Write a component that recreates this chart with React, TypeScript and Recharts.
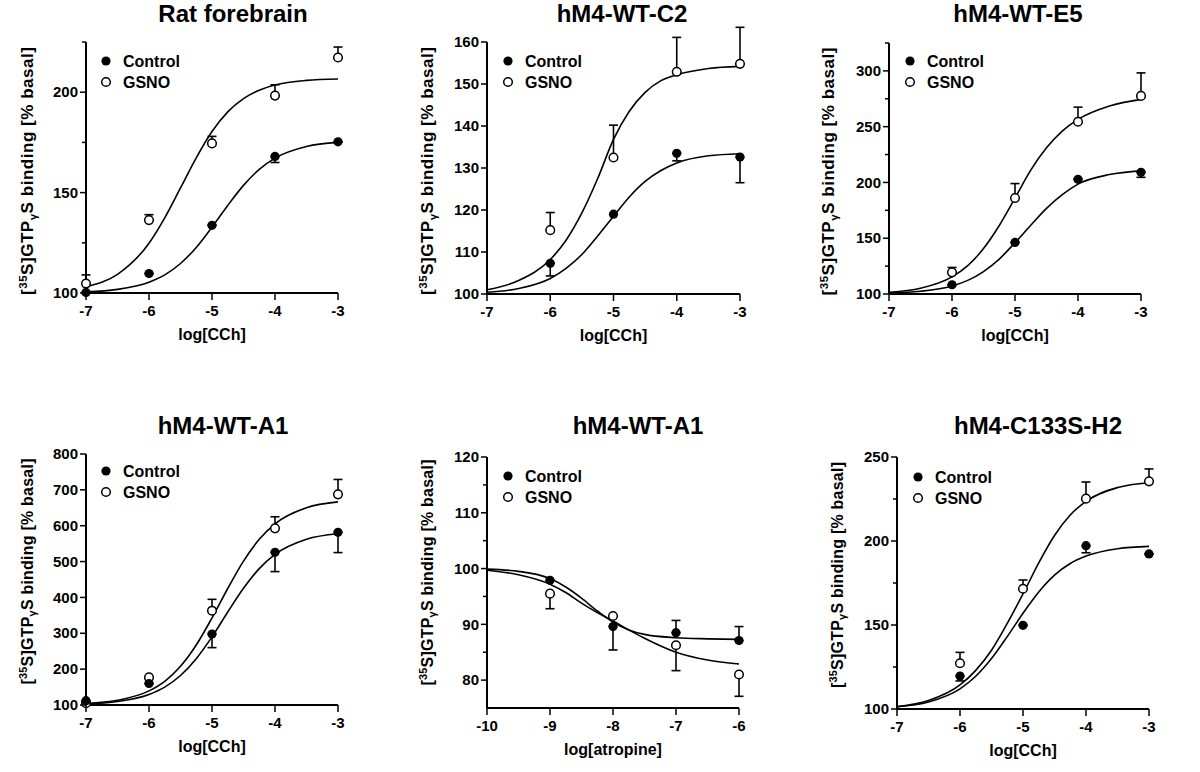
import React from "react";
import {
  ComposedChart,
  Line,
  Scatter,
  ErrorBar,
  XAxis,
  YAxis,
  ReferenceLine,
} from "recharts";

// ---- doses / tick values ----
const cchDoses = [-7, -6, -5, -4, -3];
const cchDosesFrom6 = [-6, -5, -4, -3];
const atropineDoses = [-9, -8, -7, -6];
const cchTicks = [-7, -6, -5, -4, -3];
const atropineTicks = [-10, -9, -8, -7, -6];
const cchFitX = [-7, -6.5, -6, -5.75, -5.5, -5.25, -5, -4.75, -4.5, -4.25, -4, -3.5, -3];
const atropineFitX = [-10, -9.5, -9, -8.75, -8.5, -8.25, -8, -7.75, -7.5, -7, -6.5, -6];

// ---- Rat forebrain ----
const ratCtrl = [100.3, 109.7, 133.7, 168, 175.3];
const ratCtrlDown = [0, 0, 0, 3, 0];
const ratGsno = [104.7, 136.3, 174.5, 198.3, 217.3];
const ratGsnoUp = [4.3, 2.7, 3.5, 5.4, 5.2];
const ratCtrlFit = [100.6, 101.8, 105.4, 109, 114.7, 122.7, 132.8, 143.6, 153.6, 161.6, 167.2, 173, 175];
const ratGsnoFit = [103.1, 109.3, 124.8, 137.4, 152.3, 167.3, 180.4, 190.2, 196.8, 201, 203.6, 205.9, 206.6];

// ---- hM4-WT-C2 ----
const c2Ctrl = [107.3, 119, 133.5, 132.6];
const c2CtrlDown = [3, 0, 1.8, 6.1];
const c2Gsno = [115.2, 132.5, 152.9, 154.8];
const c2GsnoUp = [4.2, 7.7, 8.2, 8.7];
const c2CtrlFit = [100.4, 101.3, 103.7, 106.1, 109.4, 113.8, 118.5, 123.1, 126.8, 129.4, 131.2, 132.9, 133.4];
const c2GsnoFit = [101, 103.2, 108.2, 112.8, 119.3, 127.5, 136.8, 143.5, 148, 150.8, 152.2, 153.7, 154.2];

// ---- hM4-WT-E5 ----
const e5Ctrl = [108.3, 146.2, 202.8, 209.1];
const e5CtrlDown = [0, 0, 0, 4.5];
const e5Gsno = [119.4, 186.1, 254.4, 277.6];
const e5GsnoUp = [4.4, 12.9, 13.1, 20.6];
const e5CtrlFit = [100.8, 102.4, 107.2, 112.2, 120.1, 131.3, 146, 161.6, 176.7, 189, 198.5, 207.1, 210.4];
const e5GsnoFit = [101.6, 105.1, 115.3, 125.4, 140.7, 161.4, 186, 211, 231, 246, 256.5, 268.5, 274.5];

// ---- hM4-WT-A1 (CCh) ----
const a1Ctrl = [112, 160, 298, 526, 581.5];
const a1CtrlDown = [0, 0, 38, 54, 56.5];
const a1Gsno = [105, 177, 363, 592.7, 687.5];
const a1GsnoUp = [0, 0, 31.7, 32.3, 41.5];
const a1CtrlFit = [103.1, 109.7, 129.4, 150, 182.2, 229.3, 290, 359.2, 425.5, 480.4, 520, 562.3, 577.5];
const a1GsnoFit = [104.2, 113, 139.3, 166, 207.9, 267.4, 342.8, 424.9, 501.2, 562, 605.3, 650.3, 666.4];

// ---- hM4-WT-A1 (atropine) ----
const atCtrl = [97.9, 89.6, 88.5, 87.1];
const atCtrlDown = [0, 4.2, 0, 0];
const atCtrlUp = [0, 0, 2.2, 2.5];
const atGsno = [95.5, 91.5, 86.25, 81];
const atGsnoDown = [2.7, 0, 4.55, 3.9];
const atCtrlFit = [99.9, 99.5, 98.2, 96.7, 94.7, 92.4, 90.4, 89, 88.2, 87.6, 87.4, 87.3];
const atGsnoFit = [99.7, 98.9, 97.2, 95.7, 93.8, 92.1, 90.6, 89, 87.5, 85, 83.6, 82.9];

// ---- hM4-C133S-H2 ----
const h2Ctrl = [119.6, 149.8, 197.2, 192.3];
const h2CtrlDown = [2.9, 0, 4.2, 0];
const h2Gsno = [127.2, 171.6, 225.2, 235.5];
const h2GsnoUp = [6.5, 5.2, 9.9, 7.4];
const h2CtrlFit = [101.4, 104.2, 112, 119.5, 130, 143.1, 157, 169.7, 179.7, 186.6, 191, 195.4, 196.8];
const h2GsnoFit = [101.3, 105, 114.3, 123, 135, 151, 168.5, 187, 203.3, 215.5, 223.6, 231.8, 234.7];

const zeros4 = [0, 0, 0, 0];
const zeros5 = [0, 0, 0, 0, 0];

const FONT = "Arial, 'Liberation Sans', Helvetica, sans-serif";

type Pt = { x: number; y: number; err: [number, number] };
const toPoints = (xs: number[], ys: number[], down: number[], up: number[]): Pt[] =>
  xs.map((x, i) => ({ x, y: ys[i], err: [down[i], up[i]] }));
const toCurve = (xs: number[], ys: number[]) => xs.map((x, i) => ({ x, y: ys[i] }));

type Box = { left: number; top: number; right: number; bottom: number };
type PanelCfg = {
  title: string;
  xLabel: string;
  xDomain: [number, number];
  xTicks: number[];
  yDomain: [number, number];
  yAxisTop: number;
  yMajor: number[];
  yMinor: number[];
  ctrl: Pt[];
  gsno: Pt[];
  ctrlFit: { x: number; y: number }[];
  gsnoFit: { x: number; y: number }[];
  box: Box;
  titleX: number;
  titleY: number;
  yLabelX: number;
  yLabelY: number;
  yLabelSize: number;
  yLabelLen: number;
  legendX: number;
  legendY: number;
};

const panels: PanelCfg[] = [
  {
    title: "Rat forebrain",
    xLabel: "log[CCh]",
    xDomain: [-7, -3],
    xTicks: cchTicks,
    yDomain: [100, 225],
    yAxisTop: 225,
    yMajor: [100, 150, 200],
    yMinor: [125, 175, 225],
    ctrl: toPoints(cchDoses, ratCtrl, ratCtrlDown, zeros5),
    gsno: toPoints(cchDoses, ratGsno, zeros5, ratGsnoUp),
    ctrlFit: toCurve(cchFitX, ratCtrlFit),
    gsnoFit: toCurve(cchFitX, ratGsnoFit),
    box: { left: 86, top: 42, right: 338, bottom: 293 },
    titleX: 233,
    titleY: 22,
    yLabelX: 27,
    yLabelY: 171,
    yLabelSize: 17,
    yLabelLen: 248,
    legendX: 106,
    legendY: 61,
  },
  {
    title: "hM4-WT-C2",
    xLabel: "log[CCh]",
    xDomain: [-7, -3],
    xTicks: cchTicks,
    yDomain: [100, 165],
    yAxisTop: 160,
    yMajor: [100, 110, 120, 130, 140, 150, 160],
    yMinor: [105, 115, 125, 135, 145, 155],
    ctrl: toPoints(cchDosesFrom6, c2Ctrl, c2CtrlDown, zeros4),
    gsno: toPoints(cchDosesFrom6, c2Gsno, zeros4, c2GsnoUp),
    ctrlFit: toCurve(cchFitX, c2CtrlFit),
    gsnoFit: toCurve(cchFitX, c2GsnoFit),
    box: { left: 487, top: 21, right: 740, bottom: 294 },
    titleX: 622,
    titleY: 22,
    yLabelX: 427,
    yLabelY: 171,
    yLabelSize: 17,
    yLabelLen: 248,
    legendX: 508,
    legendY: 61,
  },
  {
    title: "hM4-WT-E5",
    xLabel: "log[CCh]",
    xDomain: [-7, -3],
    xTicks: cchTicks,
    yDomain: [100, 325],
    yAxisTop: 325,
    yMajor: [100, 150, 200, 250, 300],
    yMinor: [125, 175, 225, 275, 325],
    ctrl: toPoints(cchDosesFrom6, e5Ctrl, e5CtrlDown, zeros4),
    gsno: toPoints(cchDosesFrom6, e5Gsno, zeros4, e5GsnoUp),
    ctrlFit: toCurve(cchFitX, e5CtrlFit),
    gsnoFit: toCurve(cchFitX, e5GsnoFit),
    box: { left: 889, top: 43, right: 1141, bottom: 294 },
    titleX: 1018,
    titleY: 22,
    yLabelX: 828,
    yLabelY: 171.5,
    yLabelSize: 17,
    yLabelLen: 248,
    legendX: 910,
    legendY: 61,
  },
  {
    title: "hM4-WT-A1",
    xLabel: "log[CCh]",
    xDomain: [-7, -3],
    xTicks: cchTicks,
    yDomain: [100, 800],
    yAxisTop: 800,
    yMajor: [100, 200, 300, 400, 500, 600, 700, 800],
    yMinor: [],
    ctrl: toPoints(cchDoses, a1Ctrl, a1CtrlDown, zeros5),
    gsno: toPoints(cchDoses, a1Gsno, zeros5, a1GsnoUp),
    ctrlFit: toCurve(cchFitX, a1CtrlFit),
    gsnoFit: toCurve(cchFitX, a1GsnoFit),
    box: { left: 86, top: 454, right: 338, bottom: 705 },
    titleX: 223,
    titleY: 434,
    yLabelX: 27,
    yLabelY: 571.5,
    yLabelSize: 16,
    yLabelLen: 226,
    legendX: 106,
    legendY: 471,
  },
  {
    title: "hM4-WT-A1",
    xLabel: "log[atropine]",
    xDomain: [-10, -6],
    xTicks: atropineTicks,
    yDomain: [75, 120],
    yAxisTop: 120,
    yMajor: [80, 90, 100, 110, 120],
    yMinor: [85, 95, 105, 115],
    ctrl: toPoints(atropineDoses, atCtrl, atCtrlDown, atCtrlUp),
    gsno: toPoints(atropineDoses, atGsno, atGsnoDown, zeros4),
    ctrlFit: toCurve(atropineFitX, atCtrlFit),
    gsnoFit: toCurve(atropineFitX, atGsnoFit),
    box: { left: 487, top: 457, right: 739, bottom: 708 },
    titleX: 638,
    titleY: 434,
    yLabelX: 427,
    yLabelY: 572.5,
    yLabelSize: 16,
    yLabelLen: 226,
    legendX: 508,
    legendY: 476,
  },
  {
    title: "hM4-C133S-H2",
    xLabel: "log[CCh]",
    xDomain: [-7, -3],
    xTicks: cchTicks,
    yDomain: [100, 250],
    yAxisTop: 250,
    yMajor: [100, 150, 200, 250],
    yMinor: [125, 175, 225],
    ctrl: toPoints(cchDosesFrom6, h2Ctrl, h2CtrlDown, zeros4),
    gsno: toPoints(cchDosesFrom6, h2Gsno, zeros4, h2GsnoUp),
    ctrlFit: toCurve(cchFitX, h2CtrlFit),
    gsnoFit: toCurve(cchFitX, h2GsnoFit),
    box: { left: 897, top: 457, right: 1149, bottom: 709 },
    titleX: 1038,
    titleY: 434,
    yLabelX: 837,
    yLabelY: 575,
    yLabelSize: 16,
    yLabelLen: 226,
    legendX: 918,
    legendY: 477,
  },
];

const Y_AXIS_W = 70;
const M_TOP = 10;
const M_RIGHT = 15;
const X_AXIS_H = 60;

const FilledDot = (p: any) => <circle cx={p.cx} cy={p.cy} r={4.6} fill="#000" />;
const OpenDot = (p: any) => (
  <circle cx={p.cx} cy={p.cy} r={4.3} fill="#fff" stroke="#000" strokeWidth={1.5} />
);

const Panel = ({ cfg }: { cfg: PanelCfg }) => {
  const { box } = cfg;
  const width = box.right - box.left + Y_AXIS_W + M_RIGHT;
  const height = box.bottom - box.top + M_TOP + X_AXIS_H;
  const chartLeft = box.left - Y_AXIS_W;
  const chartTop = box.top - M_TOP;
  const yTicks = [...cfg.yMajor, ...cfg.yMinor].sort((a, b) => a - b);

  const renderYTick = (props: any) => {
    const { x, y, payload } = props;
    const ax = x + 8;
    const major = cfg.yMajor.includes(payload.value);
    return (
      <g>
        <line x1={ax - (major ? 6 : 4)} x2={ax} y1={y} y2={y} stroke="#000" strokeWidth={1.5} />
        {major && (
          <text
            x={ax - 8}
            y={y + 5.2}
            textAnchor="end"
            fontSize={15}
            fontWeight="bold"
            fontFamily={FONT}
            fill="#000"
          >
            {payload.value}
          </text>
        )}
      </g>
    );
  };

  const renderXTick = (props: any) => {
    const { x, y, payload } = props;
    const ay = y - 7;
    return (
      <g>
        <line x1={x} x2={x} y1={ay} y2={ay + 7} stroke="#000" strokeWidth={1.5} />
        <text
          x={x}
          y={ay + 23}
          textAnchor="middle"
          fontSize={15}
          fontWeight="bold"
          fontFamily={FONT}
          fill="#000"
        >
          {payload.value}
        </text>
      </g>
    );
  };

  const renderXLabel = (props: any) => {
    const vb = props.viewBox;
    return (
      <text
        x={vb.x + vb.width / 2}
        y={vb.y + 47}
        textAnchor="middle"
        fontSize={16}
        fontWeight="bold"
        fontFamily={FONT}
        fill="#000"
      >
        {cfg.xLabel}
      </text>
    );
  };

  const renderYLabel = () => {
    const fs = cfg.yLabelSize;
    const cx = cfg.yLabelX - chartLeft;
    const cy = cfg.yLabelY - chartTop;
    const sup = fs * 0.38;
    const sub = fs * 0.2;
    return (
      <text
        x={0}
        y={fs * 0.36}
        transform={`translate(${cx},${cy}) rotate(-90)`}
        textAnchor="middle"
        textLength={cfg.yLabelLen}
        lengthAdjust="spacing"
        fontSize={fs}
        fontWeight="bold"
        fontFamily={FONT}
        fill="#000"
      >
        <tspan>[</tspan>
        <tspan fontSize={fs * 0.68} dy={-sup}>35</tspan>
        <tspan dy={sup}>S]GTP</tspan>
        <tspan fontSize={fs * 0.68} dy={sub}>γ</tspan>
        <tspan dy={-sub}>S binding [% basal]</tspan>
      </text>
    );
  };

  return (
    <div style={{ position: "absolute", left: chartLeft, top: chartTop }}>
      <ComposedChart
        width={width}
        height={height}
        margin={{ top: M_TOP, right: M_RIGHT, bottom: 0, left: 0 }}
      >
        <XAxis
          type="number"
          dataKey="x"
          domain={cfg.xDomain}
          ticks={cfg.xTicks}
          height={X_AXIS_H}
          tickSize={7}
          tickMargin={0}
          tickLine={false}
          tick={renderXTick}
          axisLine={{ stroke: "#000", strokeWidth: 2 }}
          label={renderXLabel}
        />
        <YAxis
          type="number"
          dataKey="y"
          domain={cfg.yDomain}
          ticks={yTicks}
          width={Y_AXIS_W}
          tickSize={6}
          tickMargin={2}
          tickLine={false}
          tick={renderYTick}
          axisLine={false}
          label={renderYLabel}
        />
        <ReferenceLine
          segment={[
            { x: cfg.xDomain[0], y: cfg.yDomain[0] },
            { x: cfg.xDomain[0], y: cfg.yAxisTop },
          ]}
          stroke="#000"
          strokeWidth={2}
        />
        <Line
          data={cfg.ctrlFit}
          dataKey="y"
          type="monotone"
          dot={false}
          stroke="#000"
          strokeWidth={1.6}
          isAnimationActive={false}
        />
        <Line
          data={cfg.gsnoFit}
          dataKey="y"
          type="monotone"
          dot={false}
          stroke="#000"
          strokeWidth={1.6}
          isAnimationActive={false}
        />
        <Scatter data={cfg.gsno} dataKey="y" shape={OpenDot} isAnimationActive={false}>
          <ErrorBar dataKey="err" direction="y" width={4.5} stroke="#000" strokeWidth={1.6} />
        </Scatter>
        <Scatter data={cfg.ctrl} dataKey="y" shape={FilledDot} isAnimationActive={false}>
          <ErrorBar dataKey="err" direction="y" width={4.5} stroke="#000" strokeWidth={1.6} />
        </Scatter>
      </ComposedChart>
    </div>
  );
};

const Overlay = () => (
  <svg
    width={1200}
    height={772}
    style={{ position: "absolute", left: 0, top: 0, pointerEvents: "none" }}
  >
    {panels.map((p, i) => (
      <g key={i} fontFamily={FONT} fontWeight="bold" fill="#000">
        <text x={p.titleX} y={p.titleY} textAnchor="middle" fontSize={24}>
          {p.title}
        </text>
        <circle cx={p.legendX} cy={p.legendY} r={4.6} fill="#000" />
        <text x={p.legendX + 17} y={p.legendY + 5.7} fontSize={16}>
          Control
        </text>
        <circle cx={p.legendX} cy={p.legendY + 21} r={4.3} fill="#fff" stroke="#000" strokeWidth={1.5} />
        <text x={p.legendX + 17} y={p.legendY + 21 + 5.7} fontSize={16}>
          GSNO
        </text>
      </g>
    ))}
  </svg>
);

export default function App() {
  return (
    <div
      style={{
        position: "absolute",
        left: 0,
        top: 0,
        width: 1200,
        height: 772,
        background: "#fff",
        overflow: "hidden",
      }}
    >
      {panels.map((p, i) => (
        <Panel key={i} cfg={p} />
      ))}
      <Overlay />
    </div>
  );
}
